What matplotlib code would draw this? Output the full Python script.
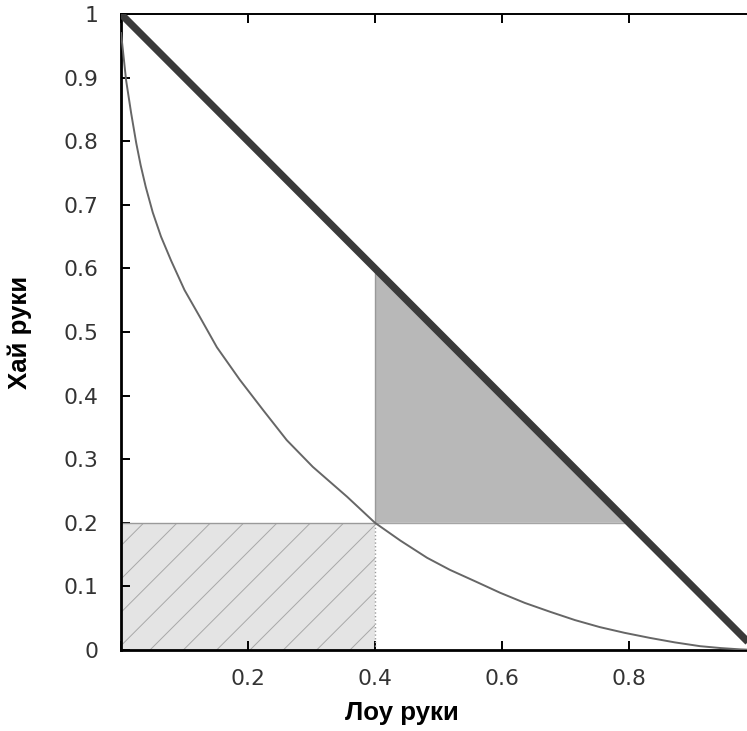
import matplotlib.pyplot as plt
import numpy as np

# Данные
diag_x = [0.0, 1.0]
diag_y = [1.0, 0.0]

curve_x = [0.0, 0.003, 0.008, 0.016, 0.024, 0.031, 0.039, 0.050, 0.063, 0.079, 0.100,
           0.124, 0.151, 0.187, 0.224, 0.261, 0.302, 0.356, 0.400, 0.440, 0.482, 0.518,
           0.560, 0.597, 0.636, 0.676, 0.715, 0.754, 0.793, 0.833, 0.872, 0.912, 0.945,
           0.975, 1.0]
curve_y = [0.97, 0.943, 0.896, 0.844, 0.797, 0.762, 0.728, 0.688, 0.650, 0.612, 0.566,
           0.524, 0.476, 0.425, 0.377, 0.330, 0.288, 0.241, 0.200, 0.172, 0.145, 0.126,
           0.107, 0.090, 0.074, 0.060, 0.047, 0.036, 0.027, 0.019, 0.012, 0.006, 0.003,
           0.001, 0.0]

# заштрихованный прямоугольник (0..0.4) x (0..0.2)
rect_x = [0.0, 0.4]
rect_top = [0.2, 0.2]
# серый треугольник
tri_x = [0.4, 0.8]
tri_bottom = [0.2, 0.2]
tri_top = [0.6, 0.2]

x_ticks = [0.0, 0.2, 0.4, 0.6, 0.8, 1.0]
x_labels = ['', '0.2', '0.4', '0.6', '0.8', '']
y_ticks = [0.0, 0.1, 0.2, 0.3, 0.4, 0.5, 0.6, 0.7, 0.8, 0.9, 1.0]
y_labels = ['0', '0.1', '0.2', '0.3', '0.4', '0.5', '0.6', '0.7', '0.8', '0.9', '1']

DPI = 200
plt.rcParams['hatch.linewidth'] = 0.35
plt.rcParams['hatch.color'] = '#a8a8a8'

fig = plt.figure(figsize=(747 / DPI, 731 / DPI), dpi=DPI)
ax = fig.add_axes([121 / 747, 81 / 731, 635 / 747, 636 / 731])

# области
ax.fill_between(rect_x, 0, rect_top, facecolor='#e4e4e4', hatch='//', edgecolor='#a8a8a8',
                linewidth=0, zorder=1)
ax.plot(rect_x, rect_top, color='#9a9a9a', lw=0.5, zorder=2)
ax.plot([rect_x[1], rect_x[1]], [0, rect_top[1]], color='#9a9a9a', lw=0.5, ls=':', zorder=2)

ax.fill_between(tri_x, tri_bottom, tri_top, facecolor='#b8b8b8', linewidth=0, zorder=1)
ax.plot([tri_x[0], tri_x[0]], [tri_bottom[0], tri_top[0]], color='#999999', lw=0.5, zorder=2)
ax.plot(tri_x, tri_bottom, color='#a5a5a5', lw=0.5, zorder=2)

# кривая и диагональ
ax.plot(curve_x, curve_y, color='#666666', lw=0.7, zorder=3)
ax.plot(diag_x, diag_y, color='#3a3a3a', lw=2.6, solid_capstyle='butt', zorder=4)

ax.set_xlim(0, 1)
ax.set_ylim(0, 1)

ax.set_xticks(x_ticks)
ax.set_xticklabels(x_labels)
ax.set_yticks(y_ticks)
ax.set_yticklabels(y_labels)

ax.tick_params(axis='both', direction='in', length=3.3, width=0.7, colors='black',
               labelcolor='#333333', labelsize=7.9, top=True, right=True)
ax.tick_params(axis='x', pad=7.0)
ax.tick_params(axis='y', pad=8.0)

for side in ['left', 'bottom']:
    ax.spines[side].set_linewidth(1.0)
ax.spines['top'].set_linewidth(0.7)
ax.spines['right'].set_linewidth(0.5)

ax.set_xlabel('Лоу руки', fontsize=9.3, fontweight='bold', family=['Liberation Sans', 'DejaVu Sans'])
ax.set_ylabel('Хай руки', fontsize=9.3, fontweight='bold', family=['Liberation Sans', 'DejaVu Sans'])
ax.xaxis.set_label_coords(0.443, -0.08)
ax.yaxis.set_label_coords(-0.14, 0.5)

fig.savefig('out.png', dpi=DPI)
